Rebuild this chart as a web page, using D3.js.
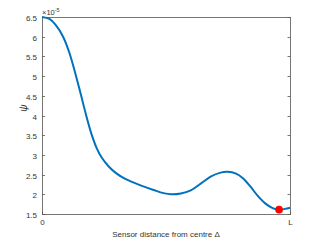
<!DOCTYPE html>
<html><head><meta charset="utf-8">
<script src="https://cdn.jsdelivr.net/npm/d3@7"></script>
<style>body{margin:0;background:#fff}svg{display:block}text{font-family:"Liberation Sans",Arial,sans-serif}</style>
</head><body>
<svg id="c" width="321" height="241"></svg>
<script>
const xs = [0, 0.03, 0.055, 0.085, 0.11, 0.133, 0.156, 0.177, 0.2, 0.22, 0.24, 0.27, 0.30, 0.33, 0.36, 0.40, 0.45, 0.49, 0.52, 0.56, 0.60, 0.64, 0.68, 0.72, 0.75, 0.78, 0.81, 0.84, 0.87, 0.90, 0.93, 0.956, 0.98, 1.0];
const ys = [6.5, 6.45, 6.3, 6.0, 5.6, 5.1, 4.55, 4.03, 3.52, 3.18, 2.94, 2.7, 2.53, 2.41, 2.32, 2.22, 2.11, 2.03, 2.0, 2.02, 2.1, 2.27, 2.45, 2.55, 2.57, 2.53, 2.41, 2.2, 1.96, 1.77, 1.65, 1.61, 1.63, 1.66];
const markerX = [0.956];
const markerY = [1.61];
const yTicks = [1.5, 2, 2.5, 3, 3.5, 4, 4.5, 5, 5.5, 6, 6.5];
const xTickVals = [0, 1];
const xTickLabels = ["0", "L"];

const svg = d3.select("#c");
const L = 42, R = 290, T = 17, B = 214;
const x = d3.scaleLinear().domain([0, 1]).range([L, R]);
const y = d3.scaleLinear().domain([1.5, 6.5]).range([B, T]);
const ax = "#555";

svg.append("rect").attr("x", L + 0.5).attr("y", T + 0.5).attr("width", R - L).attr("height", B - T)
  .attr("fill", "none").attr("stroke", ax).attr("stroke-width", 0.8);

yTicks.forEach(v => {
  const py = Math.round(y(v)) + 0.5;
  svg.append("line").attr("x1", L).attr("x2", L + 3).attr("y1", py).attr("y2", py).attr("stroke", ax).attr("stroke-width", 0.8);
  svg.append("line").attr("x1", R + 0.5).attr("x2", R - 2.5).attr("y1", py).attr("y2", py).attr("stroke", ax).attr("stroke-width", 0.8);
  svg.append("text").attr("x", 37).attr("y", py + 3).attr("text-anchor", "end")
    .attr("font-size", 8).attr("fill", "#333").text(d3.format("")(v));
});
xTickVals.forEach((v, i) => {
  const px = Math.round(x(v)) + 0.5;
  svg.append("line").attr("x1", px).attr("x2", px).attr("y1", B + 0.5).attr("y2", B - 2.5).attr("stroke", ax).attr("stroke-width", 0.8);
  svg.append("text").attr("x", px).attr("y", B + 11).attr("text-anchor", "middle")
    .attr("font-size", 8).attr("fill", "#333").text(xTickLabels[i]);
});

const ex = svg.append("text").attr("x", 42).attr("y", 15).attr("font-size", 7.5).attr("fill", "#333");
ex.append("tspan").text("\u00d710");
ex.append("tspan").attr("dy", -3).attr("font-size", 5.5).text("-5");

svg.append("text").attr("transform", "translate(27,108) rotate(-90)").attr("text-anchor", "middle")
  .attr("font-size", 10).attr("font-style", "italic").attr("fill", "#333").text("\u03c8");
svg.append("text").attr("x", 166).attr("y", 237).attr("text-anchor", "middle")
  .attr("font-size", 8).attr("fill", "#333").text("Sensor distance from centre \u0394");

const data = xs.map((v, i) => [v, ys[i]]);
svg.append("path").datum(data)
  .attr("d", d3.line().x(d => x(d[0])).y(d => y(d[1])).curve(d3.curveCatmullRom.alpha(0.5)))
  .attr("fill", "none").attr("stroke", "#0072BD").attr("stroke-width", 2);

svg.selectAll("circle.m").data(markerX).enter().append("circle")
  .attr("cx", (d) => x(d)).attr("cy", (d, i) => y(markerY[i])).attr("r", 3.8).attr("fill", "#ff0000");
</script>
</body></html>
